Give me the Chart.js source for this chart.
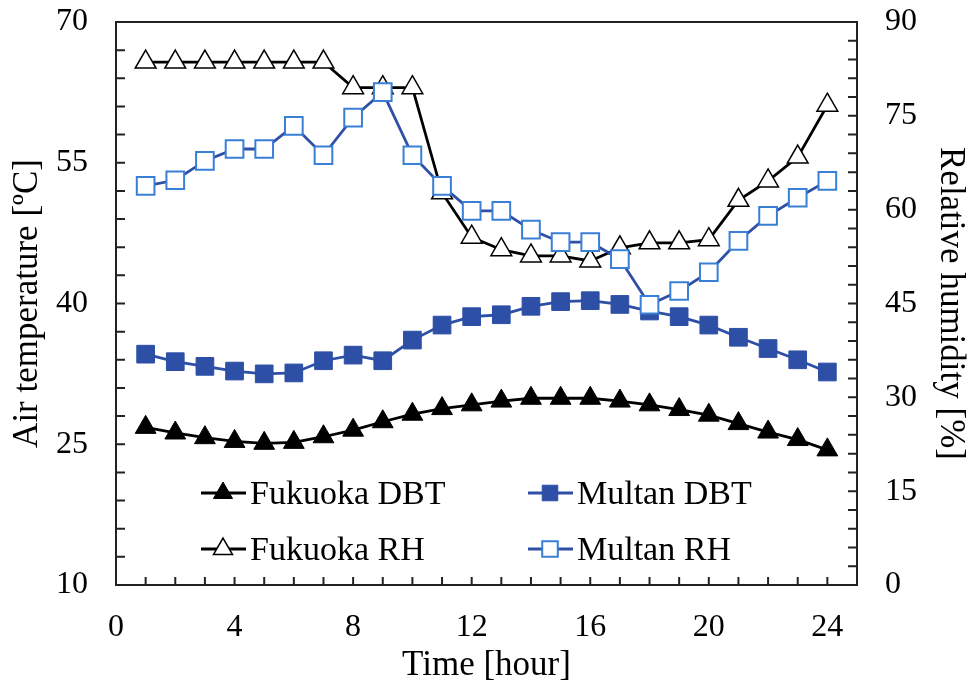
<!DOCTYPE html>
<html>
<head>
<meta charset="utf-8">
<script src="https://cdn.jsdelivr.net/npm/chart.js@4.4.1/dist/chart.umd.min.js"></script>
<style>
  html, body { margin: 0; padding: 0; background: #fff; }
  #wrap { width: 972px; height: 695px; }
</style>
</head>
<body>
<div id="wrap"><canvas id="chart"></canvas></div>
<script>
// hours of the day
const hours = [1,2,3,4,5,6,7,8,9,10,11,12,13,14,15,16,17,18,19,20,21,22,23,24];

// dry bulb temperatures [ºC], left axis
const fukuokaDBT = [26.8,26.2,25.7,25.3,25.1,25.2,25.8,26.5,27.4,28.2,28.8,29.2,29.6,29.9,29.9,29.9,29.6,29.2,28.7,28.1,27.2,26.3,25.5,24.4];
const multanDBT = [34.6,33.8,33.3,32.8,32.5,32.6,33.9,34.5,33.9,36.1,37.7,38.6,38.8,39.7,40.2,40.3,39.9,39.2,38.6,37.7,36.4,35.2,34.0,32.7];

// relative humidity [%], right axis
const fukuokaRH = [83.6,83.6,83.6,83.6,83.6,83.6,83.6,79.5,79.5,79.5,62.7,55.6,53.6,52.6,52.6,51.8,53.9,54.7,54.7,55.2,61.5,64.6,68.4,76.7];
const multanRH = [63.8,64.7,67.8,69.7,69.7,73.4,68.7,74.7,78.8,68.7,63.8,59.8,59.8,56.8,54.8,54.8,52.1,44.8,47.0,50.0,55.0,59.0,61.9,64.6];

// tick labels
const xTicks = [0,4,8,12,16,20,24];
const tempTicks = [10,25,40,55,70];
const rhTicks = [0,15,30,45,60,75,90];

const FONT = "'Liberation Serif', 'DejaVu Serif', serif";
const BLUE = '#2e4fa6';
const LIGHTBLUE = '#3a7fd6';

function pts(ys) {
  return hours.map((h, i) => ({ x: h, y: ys[i] }));
}

const datasets = [
  {
    label: 'Fukuoka DBT', data: pts(fukuokaDBT), yAxisID: 'yT', order: 4,
    borderColor: '#000', borderWidth: 2.8, pointStyle: 'triangle', pointRadius: 12,
    pointBackgroundColor: '#000', pointBorderColor: '#000', pointBorderWidth: 1
  },
  {
    label: 'Multan DBT', data: pts(multanDBT), yAxisID: 'yT', order: 3,
    borderColor: BLUE, borderWidth: 2.8, pointStyle: 'rect', pointRadius: 12.5,
    pointBackgroundColor: BLUE, pointBorderColor: BLUE, pointBorderWidth: 1
  },
  {
    label: 'Fukuoka RH', data: pts(fukuokaRH), yAxisID: 'yH', order: 2,
    borderColor: '#000', borderWidth: 2.8, pointStyle: 'triangle', pointRadius: 12,
    pointBackgroundColor: '#fff', pointBorderColor: '#000', pointBorderWidth: 1.5
  },
  {
    label: 'Multan RH', data: pts(multanRH), yAxisID: 'yH', order: 1,
    borderColor: BLUE, borderWidth: 2.8, pointStyle: 'rect', pointRadius: 12.5,
    pointBackgroundColor: '#fff', pointBorderColor: LIGHTBLUE, pointBorderWidth: 2
  }
];

// inward tick marks, top frame line and the legend inside the plot
const framePlugin = {
  id: 'frame',
  afterDatasetsDraw(chart) {
    const ctx = chart.ctx;
    const a = chart.chartArea;
    const sx = chart.scales.x, sl = chart.scales.yT, sr = chart.scales.yH;
    ctx.save();
    ctx.strokeStyle = '#222';
    ctx.lineWidth = 2;
    ctx.beginPath();
    ctx.moveTo(a.left, a.top);
    ctx.lineTo(a.right, a.top);
    for (let h = 1; h <= 24; h++) {
      const px = sx.getPixelForValue(h);
      ctx.moveTo(px, a.bottom);
      ctx.lineTo(px, a.bottom - 8);
    }
    for (let v = 13; v < 70; v += 3) {
      const py = sl.getPixelForValue(v);
      ctx.moveTo(a.left, py);
      ctx.lineTo(a.left + 9, py);
    }
    for (let v = 3; v < 90; v += 3) {
      const py = sr.getPixelForValue(v);
      ctx.moveTo(a.right, py);
      ctx.lineTo(a.right - 9, py);
    }
    ctx.stroke();

    // legend
    const spots = [
      { x: 201, y: 493 }, { x: 528, y: 493 },
      { x: 201, y: 549 }, { x: 528, y: 549 }
    ];
    ctx.font = '34px ' + FONT;
    ctx.textBaseline = 'middle';
    datasets.forEach((ds, i) => {
      const s = spots[i];
      ctx.strokeStyle = ds.borderColor;
      ctx.lineWidth = 2.8;
      ctx.beginPath();
      ctx.moveTo(s.x, s.y);
      ctx.lineTo(s.x + 45, s.y);
      ctx.stroke();
      ctx.fillStyle = ds.pointBackgroundColor;
      ctx.strokeStyle = ds.pointBorderColor;
      ctx.lineWidth = ds.pointBorderWidth;
      Chart.helpers.drawPoint(ctx, {
        pointStyle: ds.pointStyle, radius: 11, rotation: 0,
        borderWidth: ds.pointBorderWidth
      }, s.x + 22, s.y);
      ctx.fillStyle = '#000';
      ctx.fillText(ds.label, s.x + 49, s.y + 2);
    });
    ctx.restore();
  }
};

// fixed axis box sizes so the plot frame lands where the original has it
function fixVertical(width) {
  return s => { s.width = width; s.paddingTop = 0; s.paddingBottom = 0; };
}

new Chart(document.getElementById('chart'), {
  type: 'line',
  data: { datasets: datasets },
  plugins: [framePlugin],
  options: {
    responsive: true,
    maintainAspectRatio: false,
    animation: false,
    layout: { padding: { top: 22, left: 0, right: 0, bottom: 0 } },
    plugins: { legend: { display: false }, tooltip: { enabled: false } },
    scales: {
      x: {
        type: 'linear', min: 0, max: 25, position: 'bottom',
        afterBuildTicks: s => { s.ticks = xTicks.map(v => ({ value: v })); },
        afterFit: s => { s.height = 110; s.paddingLeft = 0; s.paddingRight = 0; },
        grid: { display: false, drawTicks: false },
        border: { display: true, color: '#222', width: 2 },
        ticks: { color: '#000', font: { family: FONT, size: 32 }, padding: 23, maxRotation: 0 },
        title: { display: true, text: 'Time [hour]', color: '#000', font: { family: FONT, size: 35 }, padding: { top: 0, bottom: 8 } }
      },
      yT: {
        type: 'linear', position: 'left', min: 10, max: 70,
        afterBuildTicks: s => { s.ticks = tempTicks.map(v => ({ value: v })); },
        afterFit: fixVertical(116),
        grid: { display: false, drawTicks: false },
        border: { display: true, color: '#222', width: 2 },
        ticks: { color: '#000', font: { family: FONT, size: 32 }, padding: 28 },
        title: { display: true, text: 'Air temperature [ºC]', color: '#000', font: { family: FONT, size: 35 }, padding: { top: 7, bottom: 0 } }
      },
      yH: {
        type: 'linear', position: 'right', min: 0, max: 90,
        afterBuildTicks: s => { s.ticks = rhTicks.map(v => ({ value: v })); },
        afterFit: fixVertical(115),
        grid: { display: false, drawTicks: false },
        border: { display: true, color: '#222', width: 2 },
        ticks: { color: '#000', font: { family: FONT, size: 32 }, padding: 28 },
        title: { display: true, text: 'Relative humidity [%]', color: '#000', font: { family: FONT, size: 35 }, padding: { top: 1, bottom: 0 } }
      }
    }
  }
});
</script>
</body>
</html>
